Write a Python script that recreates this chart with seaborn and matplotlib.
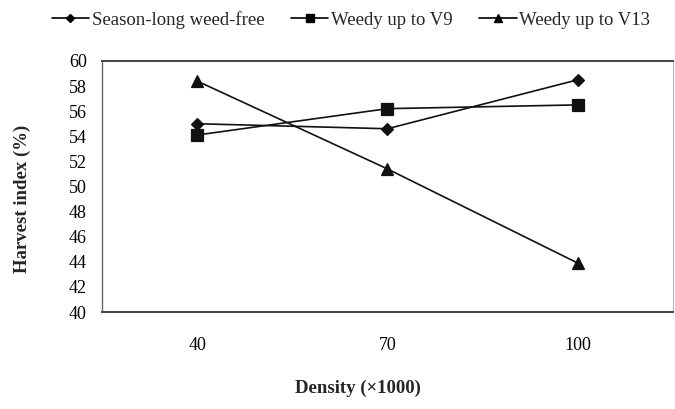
import pandas as pd
import matplotlib
matplotlib.use("Agg")
import matplotlib.pyplot as plt
from matplotlib.lines import Line2D
import seaborn as sns

density = ["40", "70", "100"]
weed_free = [55.0, 54.6, 58.5]
weedy_v9 = [54.1, 56.2, 56.5]
weedy_v13 = [58.4, 51.4, 43.9]
series_names = ["Season-long weed-free", "Weedy up to V9", "Weedy up to V13"]
y_ticks = list(range(40, 61, 2))

df = pd.DataFrame({
    "density": density * 3,
    "hi": weed_free + weedy_v9 + weedy_v13,
    "treatment": [n for n in series_names for _ in density],
})

sns.set_theme(style="white")
plt.rcParams["font.family"] = ["Liberation Serif", "DejaVu Serif"]

fig = plt.figure(figsize=(6.75, 4.09), dpi=100)
ax = fig.add_axes([0.151, 0.237, 0.846, 0.614])

markers = ["D", "s", "^"]
sns.pointplot(
    data=df, x="density", y="hi", hue="treatment", order=density,
    hue_order=series_names, palette=["black"] * 3, markers=markers,
    linestyles=["-", "-", "-"], ax=ax, errorbar=None,
    markersize=7, linewidth=1.2, legend=False,
)

# marker sizes a bit different per series
for line, ms in zip(ax.lines, [6, 8.5, 8.5]):
    line.set_markersize(ms)
    line.set_color("#111111")

ax.set_ylim(40, 60)
ax.set_xlim(-0.5, 2.5)
ax.set_yticks(y_ticks)
ax.tick_params(axis="both", length=0, labelsize=13, colors="black")
ax.tick_params(axis="x", pad=18)
ax.tick_params(axis="y", pad=11)
ax.set_xlabel("")
ax.set_ylabel("Harvest index (%)", fontsize=13.5, fontweight="bold")
ax.yaxis.set_label_coords(-0.125, 0.45)
for s in ax.spines.values():
    s.set_visible(True)
    s.set_color("#444444")
    s.set_linewidth(1.4)
ax.spines["left"].set_color("#666666")
ax.spines["left"].set_linewidth(1.0)
ax.spines["right"].set_color("#bbbbbb")
ax.spines["right"].set_linewidth(0.8)

fig.text(358 / 675, 1 - 388 / 409, "Density (\u00d71000)", ha="center", va="center",
         fontsize=13.5, fontweight="bold")

handles = [Line2D([], [], color="black", lw=1.2, marker=m, markersize=ms)
           for m, ms in zip(markers, [4.5, 6, 6])]
fig.legend(handles, series_names, loc="center", bbox_to_anchor=(0.52, 1 - 20 / 409),
           ncol=3, frameon=False, fontsize=13.5, handlelength=2.0,
           handletextpad=0.15, columnspacing=1.4)

fig.savefig("out.png", dpi=100)
